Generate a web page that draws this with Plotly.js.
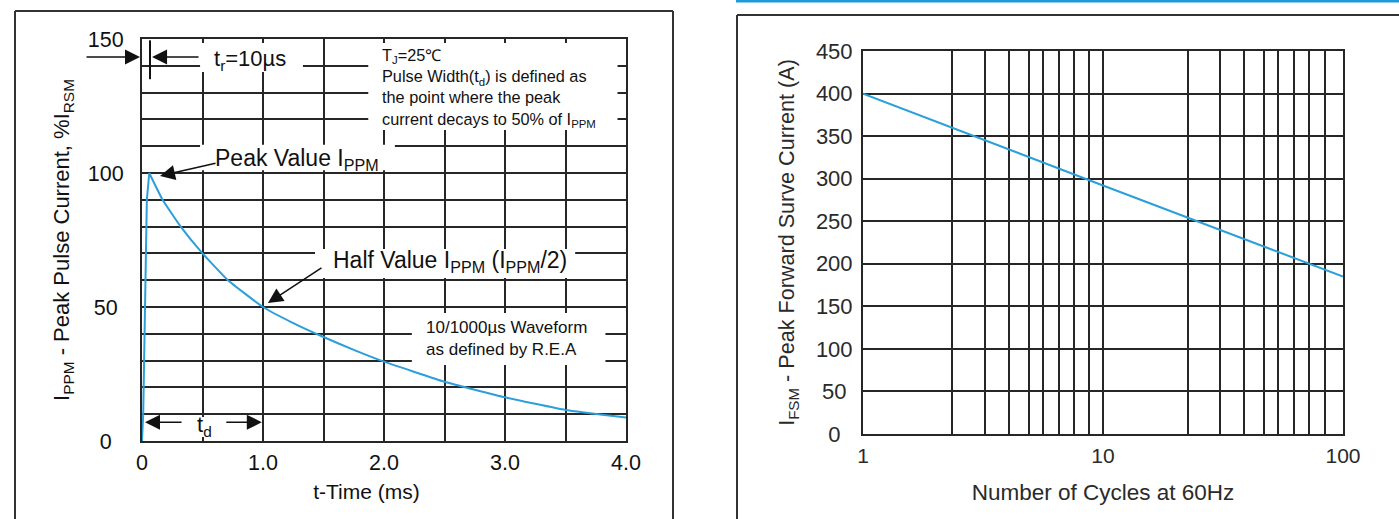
<!DOCTYPE html>
<html>
<head>
<meta charset="utf-8">
<script src="https://cdn.plot.ly/plotly-3.0.1.min.js"></script>
<style>
  html, body { margin: 0; padding: 0; background: #ffffff; }
  #chart { width: 1399px; height: 519px; }
</style>
</head>
<body>
<div id="chart"></div>
<script>
// ---------- Left chart: 10/1000 µs pulse waveform ----------
const riseTime = [0, 0.01, 0.04, 0.06];
const riseCurrent = [0, 10, 90, 100];
const decayTime = [0.06, 0.17, 0.32, 0.5, 0.71, 1.0, 1.25, 1.5, 1.75, 2.0, 2.5, 3.0, 3.5, 4.0];
const decayCurrent = [100, 90, 80, 70, 60, 50, 44, 38.8, 34, 29.6, 22.1, 16.3, 11.6, 8.8];
const timeTickVals = [0, 1, 2, 3, 4];
const timeTickText = ['0', '1.0', '2.0', '3.0', '4.0'];
const pulseTickVals = [0, 50, 100, 150];
const pulseTickText = ['0\u2008\u2008', '50\u2008', '100', '150'];

// ---------- Right chart: surge current vs cycles ----------
const cycles = [1, 10, 100];
const surgeCurrent = [400, 292, 185];
const cycleTickVals = [1, 10, 100];
const cycleTickText = ['1', '10', '100'];
const cycleGridVals = [2.35, 3.23, 4.06, 4.92, 5.65, 6.56, 7.6, 8.77,
                       22.6, 30.7, 38.7, 46.9, 53.8, 62.6, 72.5, 84.4];
const surgeTickVals = [0, 50, 100, 150, 200, 250, 300, 350, 400, 450];
const surgeTickText = ['0\u2008\u2008', '50\u2008', '100', '150', '200', '250', '300', '350', '400', '450'];

const FONT = 'Liberation Sans, Arial, Helvetica, sans-serif';
const INK = '#111111';
const INK2 = '#2a2a2a';
const GRID = '#262626';
const BLUE = '#2a9fd9';
const W = 1399, H = 519;

const traces = [
  { x: riseTime, y: riseCurrent, xaxis: 'x', yaxis: 'y', type: 'scatter', mode: 'lines',
    line: { color: BLUE, width: 2 }, hoverinfo: 'skip' },
  { x: decayTime, y: decayCurrent, xaxis: 'x', yaxis: 'y', type: 'scatter', mode: 'lines',
    line: { color: BLUE, width: 2, shape: 'spline', smoothing: 0.35 }, hoverinfo: 'skip' },
  { x: cycles, y: surgeCurrent, xaxis: 'x2', yaxis: 'y2', type: 'scatter', mode: 'lines',
    line: { color: BLUE, width: 2 }, hoverinfo: 'skip' }
];

function mask(x0, x1, y0, y1) {
  return { type: 'rect', xref: 'x', yref: 'y', x0: x0, x1: x1, y0: y0, y1: y1,
           fillcolor: '#ffffff', line: { width: 0 }, layer: 'between' };
}
function pline(x0, y0, x1, y1, color, width) {
  return { type: 'line', xref: 'paper', yref: 'paper', x0: x0 / W, x1: x1 / W,
           y0: 1 - y0 / H, y1: 1 - y1 / H, line: { color: color, width: width }, layer: 'above' };
}

const shapes = [
  mask(0.48, 1.33, 137.7, 148.5),
  mask(1.87, 3.93, 116, 148.5),
  mask(0.48, 2.09, 101, 110.5),
  mask(1.43, 3.58, 60.8, 71.6),
  mask(2.23, 3.83, 28.4, 47.8),
  mask(0.38, 0.66, 1.5, 9),
  { type: 'line', xref: 'x', yref: 'y', x0: 0.066, x1: 0.066, y0: 135, y1: 149.5,
    line: { color: INK, width: 2 } },
  // panel frames
  pline(15, 11, 15, 519, '#333', 2),
  pline(15, 11, 673, 11, '#333', 2),
  pline(673, 11, 673, 519, '#333', 2),
  pline(737, 15, 737, 519, '#333', 2),
  pline(737, 15, 1399, 15, '#333', 2),
  pline(736, 1, 1399, 1, '#1e9ad6', 3)
];

function arrow(x, y, ax, ay, ref) {
  return { xref: ref || 'x', yref: ref ? 'paper' : 'y', x: x, y: y, ax: ax, ay: ay, text: '', showarrow: true,
           arrowhead: 2, arrowsize: 2, arrowwidth: 1.5, arrowcolor: INK };
}
function label(x, y, text, size, opts) {
  return Object.assign({ xref: 'x', yref: 'y', x: x, y: y, text: text, showarrow: false,
           font: { family: FONT, size: size, color: INK } }, opts || {});
}

const annotations = [
  arrow(140 / W, 1 - 57 / H, -55, 0, 'paper'),
  arrow(0.083, 143.3, 48, 0),
  label(0.893, 142.2, 't<sub>r</sub>=10\u00b5s', 22),
  label(1.97, 148.2, 'T<sub>J</sub>=25\u2103<br>Pulse Width(t<sub>d</sub>) is defined as<br>the point where the peak<br>current decays to 50% of I<sub>PPM</sub>', 16.3,
        { xanchor: 'left', yanchor: 'top', align: 'left' }),
  label(1.28, 104.9, 'Peak Value I<sub>PPM</sub>', 23),
  arrow(0.149, 98.9, 57, -13),
  label(2.545, 66.8, 'Half Value I<sub>PPM</sub> (I<sub>PPM</sub>/2)', 23),
  arrow(1.041, 51.5, 55, -36),
  label(2.33, 38.2, '10/1000\u00b5s Waveform<br>as defined by R.E.A', 17,
        { xanchor: 'left', align: 'left' }),
  label(0.52, 5.5, 't<sub>d</sub>', 22),
  arrow(0.025, 7, 38, 0),
  arrow(0.99, 7, -37, 0)
];

const gridMinor = { showgrid: true, gridcolor: GRID, gridwidth: 2 };

const layout = {
  width: W, height: H,
  margin: { l: 0, r: 0, t: 0, b: 0, pad: 0 },
  paper_bgcolor: '#ffffff', plot_bgcolor: '#ffffff',
  showlegend: false,
  font: { family: FONT, color: INK },
  xaxis: {
    domain: [142 / W, 626 / W], anchor: 'y', range: [0, 4],
    tickmode: 'array', tickvals: timeTickVals, ticktext: timeTickText,
    showgrid: true, gridcolor: GRID, gridwidth: 2,
    minor: Object.assign({ dtick: 0.5, tick0: 0 }, gridMinor),
    showline: true, mirror: true, linecolor: GRID, linewidth: 2, zeroline: false,
    ticks: 'outside', ticklen: 1, tickcolor: 'rgba(0,0,0,0)',
    tickfont: { family: FONT, size: 21.5, color: INK },
    title: { text: 't-Time (ms)\u00a0\u00a0\u00a0\u00a0\u00a0\u00a0\u200b', font: { family: FONT, size: 21, color: INK }, standoff: 11 },
    fixedrange: true
  },
  yaxis: {
    domain: [78 / H, 480 / H], anchor: 'x', range: [0, 150],
    tickmode: 'array', tickvals: pulseTickVals, ticktext: pulseTickText,
    showgrid: true, gridcolor: GRID, gridwidth: 2,
    minor: Object.assign({ dtick: 10, tick0: 0 }, gridMinor),
    showline: true, mirror: true, linecolor: GRID, linewidth: 2, zeroline: false,
    ticks: 'outside', ticklen: 12, tickcolor: 'rgba(0,0,0,0)',
    tickfont: { family: FONT, size: 21.5, color: INK },
    title: { text: 'I<sub>PPM</sub> - Peak Pulse Current, %I<sub>RSM</sub>', font: { family: FONT, size: 22, color: INK }, standoff: 12 },
    fixedrange: true
  },
  xaxis2: {
    domain: [863 / W, 1343 / W], anchor: 'y2', type: 'log', range: [0, 2],
    tickmode: 'array', tickvals: cycleTickVals, ticktext: cycleTickText,
    showgrid: true, gridcolor: GRID, gridwidth: 2,
    minor: Object.assign({ tickmode: 'array', tickvals: cycleGridVals }, gridMinor),
    showline: true, mirror: true, linecolor: GRID, linewidth: 2, zeroline: false,
    ticks: 'outside', ticklen: 2, tickcolor: 'rgba(0,0,0,0)',
    tickfont: { family: FONT, size: 21, color: INK2 },
    title: { text: 'Number of Cycles at 60Hz', font: { family: FONT, size: 22.5, color: INK2 }, standoff: 18 },
    fixedrange: true
  },
  yaxis2: {
    domain: [85 / H, 468 / H], anchor: 'x2', range: [0, 450],
    tickmode: 'array', tickvals: surgeTickVals, ticktext: surgeTickText,
    showgrid: true, gridcolor: GRID, gridwidth: 2,
    showline: true, mirror: true, linecolor: GRID, linewidth: 2, zeroline: false,
    ticks: 'outside', ticklen: 4, tickcolor: 'rgba(0,0,0,0)',
    tickfont: { family: FONT, size: 22, color: INK2 },
    title: { text: 'I<sub>FSM</sub> - Peak Forward Surve Current (A)', font: { family: FONT, size: 21.6, color: INK2 }, standoff: 15 },
    fixedrange: true
  },
  shapes: shapes,
  annotations: annotations
};

Plotly.newPlot('chart', traces, layout, { displayModeBar: false, staticPlot: true, responsive: false });
</script>
</body>
</html>
